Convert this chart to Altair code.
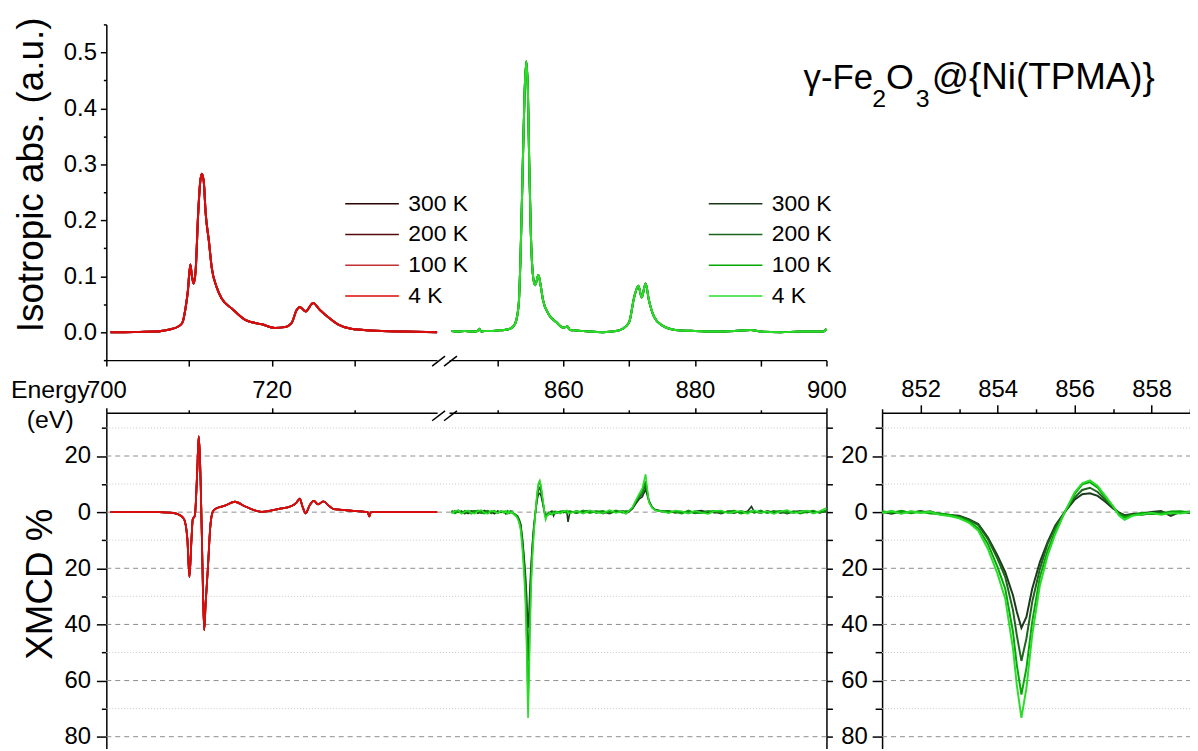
import altair as alt
import pandas as pd

FONT = "Liberation Sans, Arial, sans-serif"
TEMPS = ["300 K", "200 K", "100 K", "4 K"]
FE_COLORS = ["#2a0303", "#560a0a", "#c23030", "#dc0a0a"]
NI_COLORS = ["#1b3a1b", "#1f631f", "#04a804", "#2bdc2b"]

# ---- Fe L-edge, isotropic absorption (all temperatures overlap) ----
fe_iso_e = [700.5, 702.0, 704.0, 706.0, 707.0, 708.0, 708.7, 709.2, 709.6, 709.85,
            710.16, 710.35, 710.56, 710.8, 711.1, 711.35, 711.56, 711.8, 712.0, 712.4,
            712.75, 713.35, 713.95, 715.2, 716.8, 718.8, 720.4, 721.6, 722.4, 723.0,
            723.4, 724.1, 725.0, 725.8, 726.8, 728.0, 729.6, 732.0, 736.0, 740.0]
fe_iso_a = [0.0, 0.0, 0.0005, 0.001, 0.003, 0.006, 0.010, 0.017, 0.045, 0.072,
            0.121, 0.100, 0.087, 0.110, 0.210, 0.268, 0.283, 0.266, 0.215, 0.163,
            0.115, 0.080, 0.060, 0.042, 0.022, 0.014, 0.0076, 0.009, 0.016, 0.039,
            0.045, 0.037, 0.052, 0.040, 0.027, 0.014, 0.006, 0.003, 0.001, 0.0]

# ---- Ni L-edge, isotropic absorption ----
ni_iso_e = [843.0, 844.0, 845.0, 846.0, 847.0, 847.2, 847.5, 848.0, 849.0, 850.0,
            851.0, 851.9, 852.65, 853.2, 853.5, 853.8, 854.1, 854.35, 854.6, 854.8,
            855.05, 855.4, 855.7, 856.2, 856.5, 856.9, 857.7, 858.9, 860.0, 860.6,
            861.0, 862.0, 864.0, 866.0, 868.0, 869.0, 870.0, 870.75, 871.4, 871.9,
            872.5, 873.0, 873.8, 875.0, 877.0, 880.0, 883.0, 886.0, 888.5, 890.0,
            893.0, 896.0, 899.5, 900.0]
ni_iso_a = [0.002, 0.001, 0.002, 0.001, 0.002, 0.006, 0.001, 0.002, 0.002, 0.003,
            0.004, 0.006, 0.015, 0.05, 0.145, 0.29, 0.43, 0.484, 0.43, 0.30,
            0.174, 0.098, 0.084, 0.102, 0.086, 0.057, 0.033, 0.018, 0.008, 0.010,
            0.004, 0.003, 0.001, 0.0, 0.002, 0.006, 0.018, 0.062, 0.083, 0.062,
            0.087, 0.057, 0.027, 0.012, 0.004, 0.002, 0.001, 0.002, 0.004, 0.001,
            0.0, 0.001, 0.001, 0.006]

# ---- Fe XMCD (%) ----
fe_xmcd_e = [700.5, 704.0, 706.4, 708.0, 708.8, 709.4, 709.8, 710.05, 710.3, 710.45,
             710.7, 711.0, 711.17, 711.3, 711.55, 711.7, 711.84, 712.0, 712.3, 712.55,
             712.85, 713.15, 714.35, 715.55, 716.8, 718.8, 720.8, 722.4, 723.0, 723.4,
             723.7, 724.1, 724.6, 725.1, 725.6, 726.25, 726.95, 727.5, 728.5, 729.6,
             731.6, 731.8, 732.0, 736.0, 740.0]
fe_xmcd_v = [0.0, 0.1, 0.0, -0.3, -0.9, -2.5, -9.6, -23.1, -9.5, -2.5,
             -1.3, 15.2, 27.0, 21.0, -8.3, -30.0, -42.0, -33.0, -19.0, -6.0,
             0.0, 1.1, 2.3, 3.7, 2.0, 0.1, 1.1, 2.2, 3.4, 4.8,
             2.2, -0.4, 2.5, 4.0, 2.8, 3.8, 2.2, 1.1, 0.8, 0.5,
             0.0, -1.5, 0.0, 0.0, 0.0]

# ---- Ni XMCD (%) per temperature ----
ni_xmcd_e = [843.0, 843.5, 844.0, 844.5, 845.0, 845.5, 846.0, 846.5, 847.0, 847.5,
             848.0, 848.5, 849.0, 849.5, 850.0, 850.5,
             851.0, 851.25, 851.5, 851.75, 852.0, 852.25, 852.5, 852.75, 853.0, 853.25,
             853.5, 853.75, 854.0, 854.2, 854.4, 854.5, 854.62, 854.75, 854.9, 855.1,
             855.3, 855.5, 855.75, 856.0, 856.2, 856.4, 856.6, 856.8, 857.0, 857.15,
             857.3, 857.5, 857.75, 858.0, 858.25, 858.5, 858.75, 859.0,
             859.5, 860.0, 860.5, 860.7, 861.0, 862.0, 863.0, 864.0, 865.0, 866.0,
             867.0, 868.0, 869.0, 869.5,
             870.0, 870.5, 871.0, 871.5, 872.0, 872.5, 873.0, 873.5, 874.0, 875.0,
             876.0, 877.0, 878.0, 879.0, 880.0, 881.0, 882.0, 883.0, 884.0, 885.0,
             886.0, 887.0, 888.0, 888.6, 889.0, 890.0, 891.0, 892.0, 893.0, 894.0,
             895.0, 896.0, 897.0, 898.0, 899.0, 900.0]
ni_xmcd_300 = [0.4, -0.3, 0.6, -0.2, 0.3, -0.5, 0.2, 0.5, -0.4, 0.1, 0.6, -0.3, 0.2, -0.6, 0.4, -0.1,
               0.1, -0.6, 0.3, -0.2, 0.4, -0.3, -0.6, -1.0, -1.3, -2.5,
               -4.2, -9.0, -15.5, -21.4, -29.6, -35.5, -41.2, -37.3, -27.3, -17.8,
               -10.7, -4.8, 0.1, 4.4, 6.4, 6.7, 5.8, 3.7, 1.3, -0.1,
               -1.1, -0.7, -0.5, 0.1, 0.4, -1.3, 0.1, -0.3,
               0.3, -0.2, 0.4, -3.5, 0.2, -0.4, 0.3, 0.5, -0.3, 0.2, -0.5, 0.4, 0.1, -0.4,
               0.2, 1.2, 3.0, 4.6, 5.5, 8.1, 4.0, 1.8, 0.8, 0.3,
               0.5, -0.3, 0.2, -0.4, 0.3, 0.6, -0.2, 0.1, -0.5, 0.4,
               0.2, -0.3, 0.3, 2.0, 0.2, -0.4, 0.5, -0.1, 0.3, -0.5,
               0.2, 0.4, -0.2, 0.3, -0.3, 0.5]
ni_xmcd_200 = [-0.3, 0.5, -0.1, 0.4, -0.6, 0.2, 0.5, -0.3, 0.3, -0.4, 0.1, 0.5, -0.5, 0.3, -0.2, 0.4,
               -0.2, 0.3, -0.4, 0.2, -0.1, 0.3, -0.8, -1.2, -1.5, -2.7,
               -4.6, -9.6, -16.6, -23.1, -34.9, -43.8, -53.0, -45.0, -32.0, -20.2,
               -11.3, -5.4, 0.1, 5.2, 7.9, 8.7, 7.2, 4.4, 1.7, -0.4,
               -1.3, -0.8, -0.9, -0.4, 0.0, -0.4, -0.1, 0.2,
               -0.4, 0.3, -0.2, 0.1, -0.3, 0.5, -0.2, 0.1, 0.4, -0.5, 0.3, -0.1, 0.5, 0.2,
               0.3, 1.4, 3.4, 5.2, 6.5, 9.9, 4.0, 1.6, 0.8, 0.4,
               -0.2, 0.4, -0.3, 0.2, -0.5, 0.1, 0.4, -0.3, 0.3, -0.1,
               -0.4, 0.5, -0.2, 0.3, -0.3, 0.4, -0.2, 0.5, -0.4, 0.1,
               -0.3, 0.3, 0.5, -0.4, 0.2, 0.1]
ni_xmcd_100 = [0.6, -0.5, 0.2, -0.4, 0.5, 0.1, -0.6, 0.3, 0.6, -0.2, -0.5, 0.4, 0.1, 0.5, -0.4, 0.2,
               0.3, -0.2, 0.5, -0.4, 0.2, -0.5, -0.5, -0.9, -1.9, -3.2,
               -5.8, -11.3, -19.6, -27.3, -42.6, -54.4, -65.0, -55.6, -39.1, -23.1,
               -13.7, -6.6, 0.1, 6.4, 9.9, 10.7, 8.7, 5.2, 2.0, -0.7,
               -1.9, -1.1, -0.2, -0.7, -0.5, 0.2, 0.3, -0.1,
               0.2, 0.5, -0.4, 0.3, 0.4, -0.3, 0.6, -0.4, 0.2, 0.5, -0.2, 0.6, -0.3, 0.4,
               0.5, 1.6, 3.8, 5.8, 7.5, 11.1, 3.8, 1.6, 0.7, 0.2,
               0.4, 0.1, -0.5, 0.6, -0.2, -0.4, 0.3, 0.5, -0.3, 0.2,
               0.6, -0.5, 0.1, 0.4, -0.2, 0.6, -0.4, 0.2, 0.5, -0.3,
               0.4, -0.5, 0.1, 0.6, -0.2, 0.8]
ni_xmcd_4 = [-0.5, 0.3, 0.7, -0.6, 0.1, 0.6, -0.3, -0.5, 0.4, 0.7, -0.2, -0.6, 0.5, 0.2, -0.3, 0.5,
             -0.3, 0.4, -0.6, 0.3, -0.3, 0.1, -0.9, -1.4, -2.2, -3.7,
             -6.6, -13.1, -22.0, -30.8, -48.5, -61.5, -73.3, -62.7, -43.8, -26.1,
             -15.5, -7.8, 0.1, 7.0, 10.3, 11.3, 9.3, 5.8, 2.2, -1.1,
             -2.7, -1.3, -0.8, -0.2, -0.9, -0.3, -0.5, 0.1,
             -0.5, 0.2, 0.6, -0.2, -0.4, 0.4, -0.5, 0.6, -0.1, -0.4, 0.7, -0.3, 0.3, -0.6,
             0.6, 1.8, 4.2, 6.4, 8.6, 13.5, 3.4, 1.5, 0.6, 0.3,
             -0.4, 0.6, 0.3, -0.5, 0.5, -0.2, -0.6, 0.4, 0.6, -0.4,
             0.1, 0.5, -0.6, 0.2, 0.6, -0.3, 0.3, -0.6, 0.2, 0.7,
             -0.4, 0.1, 0.6, -0.5, 0.4, 1.5]

# ---- tick values ----
top_ticks = [-0.05, 0.0, 0.05, 0.1, 0.15, 0.2, 0.25, 0.3, 0.35, 0.4, 0.45, 0.5, 0.55]
xmcd_ticks = [-80, -70, -60, -50, -40, -30, -20, -10, 0, 10, 20, 30]
fe_ticks = [700, 710, 720, 730]
ni_ticks = [850, 860, 870, 880, 890, 900]
zoom_ticks = [851, 852, 853, 854, 855, 856, 857, 858, 859]

ni_series = {"300 K": ni_xmcd_300, "200 K": ni_xmcd_200, "100 K": ni_xmcd_100, "4 K": ni_xmcd_4}
for s in ni_series.values():
    assert len(s) == len(ni_xmcd_e), len(s)
assert len(fe_iso_e) == len(fe_iso_a)
assert len(ni_iso_e) == len(ni_iso_a)
assert len(fe_xmcd_e) == len(fe_xmcd_v)


def shared(e, vals, name):
    return pd.DataFrame([{"E": x, name: y, "T": t} for t in TEMPS for x, y in zip(e, vals)])


fe_iso_df = shared(fe_iso_e, fe_iso_a, "A")
ni_iso_df = shared(ni_iso_e, ni_iso_a, "A")
fe_xmcd_df = shared(fe_xmcd_e, fe_xmcd_v, "M")
ni_xmcd_df = pd.DataFrame([{"E": x, "M": y, "T": t}
                           for t in TEMPS for x, y in zip(ni_xmcd_e, ni_series[t])])
zoom_df = ni_xmcd_df[(ni_xmcd_df.E >= 851) & (ni_xmcd_df.E <= 859)]
grid_df = pd.DataFrame({"v": xmcd_ticks})

# ---- scales (explicit pixel ranges inside one 1091 x 729 plot area) ----
W, H = 1091, 729
X_FE = alt.Scale(domain=[700, 740], range=[0, 333], nice=False, zero=False)
X_NI = alt.Scale(domain=[842.6, 900], range=[345, 725], nice=False, zero=False)
X_ZM = alt.Scale(domain=[851, 859], range=[781, 1091], nice=False, zero=False)
Y_TOP = alt.Scale(domain=[-0.05, 0.55], range=[338, 0], nice=False, zero=False)
Y_BOT = alt.Scale(domain=[-84.2, 35.4], range=[729, 391], nice=False, zero=False)


def ax(**kw):
    base = dict(labelFlush=False, labelOverlap=False, grid=False, domainColor="black",
                domainWidth=1.5, tickColor="black", tickWidth=1.5, labelFontSize=24,
                labelColor="black", labelFont=FONT, titleFont=FONT, titleColor="black",
                titleFontWeight="normal", title=None)
    base.update(kw)
    return alt.Axis(**base)


def cond(test, major, minor):
    return {"condition": {"test": test, "value": major}, "value": minor}


def leg(x):
    return alt.Legend(orient="none", legendX=x, legendY=169, title=None,
                      symbolType="M-3,0H3", symbolSize=324, symbolStrokeWidth=1.5,
                      labelFontSize=23, labelFont=FONT, labelColor="black",
                      labelOffset=25, rowPadding=7, padding=0, direction="vertical")


TOP_MAJ = "abs(round(datum.value*100)) % 10 == 0"
X20 = "datum.value % 20 == 0"

fe_iso = alt.Chart(fe_iso_df).mark_line(strokeWidth=2, interpolate="monotone").encode(
    x=alt.X("E:Q", scale=X_FE, axis=ax(orient="bottom", offset=-391, values=fe_ticks,
                                       labels=False, tickSize=6)),
    y=alt.Y("A:Q", scale=Y_TOP, axis=ax(
        orient="left", values=top_ticks,
        labelExpr=TOP_MAJ + " ? format(datum.value, '.1f') : ''",
        tickSize=cond(TOP_MAJ, 6, 3), labelPadding=4,
        title="Isotropic abs. (a.u.)", titleFontSize=37, titleX=-64, titleY=151,
        titleAngle=270, titleAlign="center", titleBaseline="alphabetic")),
    color=alt.Color("T:N", scale=alt.Scale(domain=TEMPS, range=FE_COLORS), legend=leg(256)),
)

ni_iso = alt.Chart(ni_iso_df).mark_line(strokeWidth=2, interpolate="monotone").encode(
    x=alt.X("E:Q", scale=X_NI, axis=ax(orient="bottom", offset=-391, values=ni_ticks,
                                       labels=False, tickSize=6)),
    y=alt.Y("A:Q", scale=Y_TOP, axis=None),
    color=alt.Color("T:N", scale=alt.Scale(domain=TEMPS, range=NI_COLORS), legend=leg(622)),
)

major_rule = alt.datum.v % 20 == 0

grid_main = alt.Chart(grid_df).mark_rule(strokeWidth=1).encode(
    x=alt.XDatum(0, type="quantitative", scale=alt.Scale(domain=[0, 1], range=[0, 725]), axis=None),
    x2=alt.X2Datum(1),
    y=alt.Y("v:Q", scale=Y_BOT, axis=ax(
        orient="left", values=xmcd_ticks,
        labelExpr=X20 + " ? format(abs(datum.value), 'd') : ''",
        tickSize=cond(X20, 10, 5), labelPadding=6,
        title="XMCD %", titleFontSize=37, titleX=-55, titleY=563,
        titleAngle=270, titleAlign="center", titleBaseline="alphabetic")),
    strokeDash=alt.when(major_rule).then(alt.value([5, 4])).otherwise(alt.value([1, 2])),
    color=alt.when(major_rule).then(alt.value("#8c8c8c")).otherwise(alt.value("#c8c8c8")),
)

grid_zoom = alt.Chart(grid_df).mark_rule(strokeWidth=1).encode(
    x=alt.XDatum(851, type="quantitative", scale=X_ZM, axis=None),
    x2=alt.X2Datum(859),
    y=alt.Y("v:Q", scale=Y_BOT, axis=ax(
        orient="left", offset=-781, values=xmcd_ticks,
        labelExpr=X20 + " ? format(abs(datum.value), 'd') : ''",
        tickSize=cond(X20, 10, 7), labelPadding=5)),
    strokeDash=alt.when(major_rule).then(alt.value([5, 4])).otherwise(alt.value([1, 2])),
    color=alt.when(major_rule).then(alt.value("#8c8c8c")).otherwise(alt.value("#c8c8c8")),
)

fe_xmcd = alt.Chart(fe_xmcd_df).mark_line(strokeWidth=1.8, interpolate="monotone").encode(
    x=alt.X("E:Q", scale=X_FE, axis=ax(
        orient="top", offset=-391, values=fe_ticks,
        labelExpr=X20 + " ? format(datum.value, 'd') : ''",
        tickSize=cond(X20, 5, 3), labelPadding=5,
        title=["Energy", "(eV)"], titleFontSize=25, titleX=-57, titleY=-15,
        titleAngle=0, titleAlign="center", titleBaseline="alphabetic", titleLineHeight=29.5)),
    y=alt.Y("M:Q", scale=Y_BOT, axis=None),
    color=alt.Color("T:N", scale=alt.Scale(domain=TEMPS, range=FE_COLORS), legend=None),
)

ni_xmcd = alt.Chart(ni_xmcd_df).mark_line(strokeWidth=1.6).encode(
    x=alt.X("E:Q", scale=X_NI, axis=ax(
        orient="top", offset=-391, values=ni_ticks,
        labelExpr=X20 + " ? format(datum.value, 'd') : ''",
        tickSize=cond(X20, 5, 3), labelPadding=5)),
    y=alt.Y("M:Q", scale=Y_BOT, axis=ax(orient="right", offset=-366, values=xmcd_ticks,
                                        labels=False, tickSize=6)),
    color=alt.Color("T:N", scale=alt.Scale(domain=TEMPS, range=NI_COLORS), legend=None),
)

zoom = alt.Chart(zoom_df).mark_line(strokeWidth=2).encode(
    x=alt.X("E:Q", scale=X_ZM, axis=ax(
        orient="top", offset=-391, values=zoom_ticks,
        labelExpr="datum.value % 2 == 0 ? format(datum.value, 'd') : ''",
        tickSize=cond("datum.value % 2 == 0", 8, 4), labelPadding=3)),
    y=alt.Y("M:Q", scale=Y_BOT, axis=None),
    color=alt.Color("T:N", scale=alt.Scale(domain=TEMPS, range=NI_COLORS), legend=None),
)

one = pd.DataFrame({"k": [0]})


def slash(x1, y1, x2, y2):
    return alt.Chart(one).mark_rule(strokeWidth=1.5, color="black").encode(
        x=alt.value(x1), y=alt.value(y1), x2=alt.value(x2), y2=alt.value(y2))


breaks = [slash(328, 344, 341, 334), slash(340, 344, 353, 334),
          slash(328, 399, 341, 389), slash(340, 399, 353, 389)]


def label(txt, x, y, size):
    return alt.Chart(one).mark_text(text=txt, align="left", baseline="alphabetic",
                                    fontSize=size, font=FONT, color="black").encode(
        x=alt.value(x), y=alt.value(y))


title_parts = [label("γ-Fe", 702, 65, 35), label("2", 771, 83, 25), label("O", 785, 65, 36),
               label("3", 815, 83, 25), label("@{Ni(TPMA)}", 831, 65, 37)]

chart = alt.layer(grid_main, grid_zoom, fe_iso, ni_iso, fe_xmcd, ni_xmcd, zoom,
                  *breaks, *title_parts).resolve_scale(
    x="independent", y="independent", color="independent"
).properties(
    width=W, height=H,
    autosize=alt.AutoSizeParams(type="none"),
    padding={"left": 99, "top": 14, "right": 0, "bottom": 0},
).configure_view(stroke=None)

chart.save("out.html", embed_options={"renderer": "svg", "actions": False})
